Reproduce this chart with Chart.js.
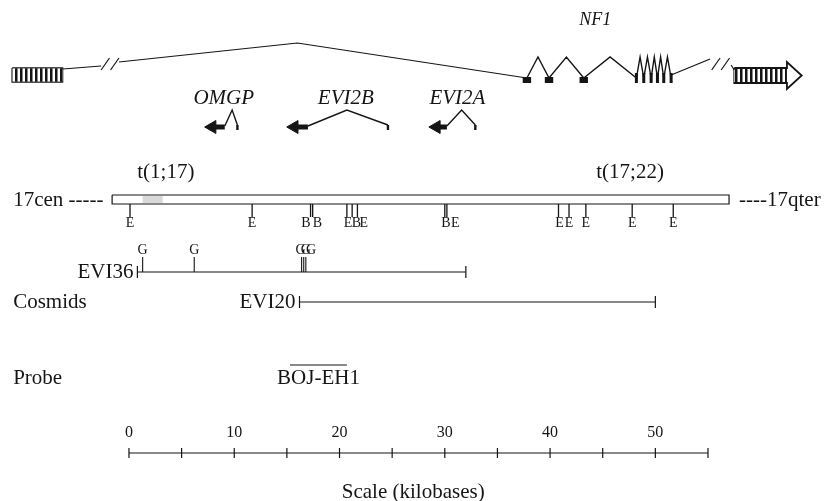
<!DOCTYPE html>
<html>
<head>
<meta charset="utf-8">
<script src="https://cdn.jsdelivr.net/npm/chart.js@4/dist/chart.umd.min.js"></script>
<style>
  html, body { margin: 0; padding: 0; background: #fff; }
  #map { display: block; }
</style>
</head>
<body>
<canvas id="map" width="828" height="501"></canvas>
<script>
// Map data, all x positions in kilobases (0 - 55 kb)
const scaleTickKb = [0, 5, 10, 15, 20, 25, 30, 35, 40, 45, 50, 55];
const scaleLabelKb = [0, 10, 20, 30, 40, 50];

// restriction sites below the chromosome bar (E = EcoRI, B = BamHI)
const siteKb      = [0.1, 11.7, 17.25, 17.45, 20.7, 21.2, 21.7, 30.0, 30.2, 40.8, 41.8, 43.4, 47.8, 51.7];
const siteEnzyme  = ['E', 'E', 'B', 'B', 'E', 'B', 'E', 'B', 'E', 'E', 'E', 'E', 'E', 'E'];
const siteLabelKb = [0.1, 11.7, 16.8, 17.9, 20.8, 21.6, 22.3, 30.1, 31.0, 40.9, 41.8, 43.4, 47.8, 51.7];

// G sites on cosmid EVI36
const gSiteKb  = [1.3, 6.2, 16.4, 16.6, 16.8];
const gLabelKb = [1.3, 6.2, 16.3, 16.8, 17.3];

const cosmidNames   = ['EVI36', 'EVI20'];
const cosmidStartKb = [0.8, 16.2];
const cosmidEndKb   = [32.0, 50.0];

const probeName = 'BOJ-EH1';
const probeKb = [15.3, 20.7];

const chromBarKb = [-1.6, 57.0];
const t117ShadeKb = [1.3, 3.2];
const translocations = ['t(1;17)', 't(17;22)'];
const translocationKb = [3.5, 47.6];

// genes inside the NF1 intron, transcribed toward the centromere
const geneNames   = ['OMGP', 'EVI2B', 'EVI2A'];
const geneArrowKb = [7.9, 15.7, 29.2];
const geneStartKb = [9.1, 17.0, 30.2];
const genePeakKb  = [9.8, 20.7, 31.6];
const geneEndKb   = [10.3, 24.6, 32.9];
const geneLabelKb = [9.0, 20.6, 31.2];

// NF1 on top, line broken at both ends
const nf1ExonKb = [37.8, 39.9, 43.2, 48.2, 48.9, 49.6, 50.2, 50.8, 51.5];
const nf1LongIntronPeakKb = 16.0;
const nf1LeftBoxKb = [-11.1, -6.3];
const nf1RightBoxKb = [57.5, 62.5, 63.9];
const nf1BreakKb = [-1.8, 56.2];
const nf1LabelKb = 44.3;

// vertical layout (y scale runs 0..501 top to bottom)
const Y = {
  nf1Label: 20, nf1Base: 78, nf1Peak: 57, nf1LongPeak: 43, nf1Box: 75,
  geneLabel: 98, geneArrow: 127, genePeak: 110, geneEnd: 125,
  transLabel: 172, barTop: 195, barBottom: 204, siteTick: 217, siteLabel: 223,
  gLabel: 250, gTick: 257, evi36: 272, evi20: 302,
  probeLine: 365, probeLabel: 378,
  scaleLabel: 433, scale: 453, scaleTitle: 492
};
const leftTextKb = -11.0;

const ink = '#151515';
const serif = "'Liberation Serif', 'Times New Roman', serif";

const datasets = [];
function path(points, width, extra) {
    datasets.push(Object.assign({
        data: points.map(p => ({ x: p[0], y: p[1] })),
        showLine: true,
        borderColor: ink,
        borderWidth: width || 1.2,
        pointRadius: 0,
        fill: false,
        tension: 0
    }, extra || {}));
}

const labels = [];
function text(str, kb, y, font, align, dx) {
    labels.push({ str: str, kb: kb, y: y, font: font, align: align || 'center', dx: dx || 0 });
}

// striped fill for the NF1 end boxes
const tile = document.createElement('canvas');
tile.width = 5; tile.height = 4;
const tctx = tile.getContext('2d');
tctx.fillStyle = '#fff'; tctx.fillRect(0, 0, 5, 4);
tctx.fillStyle = ink; tctx.fillRect(0, 0, 2.5, 4);
const stripes = document.getElementById('map').getContext('2d').createPattern(tile, 'repeat');

// ---- NF1 line ----
path([[nf1LeftBoxKb[1], Y.nf1Base - 9], [nf1BreakKb[0] - 0.85, Y.nf1Base - 12]]);
path([[nf1BreakKb[0] + 0.85, Y.nf1Base - 16], [nf1LongIntronPeakKb, Y.nf1LongPeak], [nf1ExonKb[0], Y.nf1Base]]);
const zig = [];
nf1ExonKb.forEach((kb, i) => {
    zig.push([kb, Y.nf1Base]);
    if (i < nf1ExonKb.length - 1) zig.push([(kb + nf1ExonKb[i + 1]) / 2, Y.nf1Peak]);
});
path(zig, 1.4);
path([[nf1ExonKb[nf1ExonKb.length - 1], Y.nf1Base - 3], [nf1BreakKb[1] - 1.0, Y.nf1Peak + 2]]);
path([[nf1BreakKb[1] + 1.0, Y.nf1Box - 10], [nf1RightBoxKb[0], Y.nf1Box - 5]]);
nf1BreakKb.forEach(kb => {
    const yc = Y.nf1Base - 14;
    [-0.45, 0.45].forEach(off => {
        path([[kb + off - 0.4, yc + 6], [kb + off + 0.4, yc - 6]], 1.2);
    });
});
nf1ExonKb.forEach((kb, i) => {
    if (i < 3) path([[kb - 0.4, Y.nf1Base + 2], [kb + 0.4, Y.nf1Base + 2]], 6, { borderCapStyle: 'butt' });
    else path([[kb, Y.nf1Base - 5], [kb, Y.nf1Base + 5]], 3, { borderCapStyle: 'butt' });
});
// end boxes
path([[nf1LeftBoxKb[0], Y.nf1Box], [nf1LeftBoxKb[1], Y.nf1Box]], 13, { borderColor: stripes, borderCapStyle: 'butt' });
path([[nf1LeftBoxKb[0], Y.nf1Box - 7], [nf1LeftBoxKb[1], Y.nf1Box - 7], [nf1LeftBoxKb[1], Y.nf1Box + 7],
      [nf1LeftBoxKb[0], Y.nf1Box + 7], [nf1LeftBoxKb[0], Y.nf1Box - 7]], 1.3);
path([[nf1RightBoxKb[0], Y.nf1Box + 0.5], [nf1RightBoxKb[1], Y.nf1Box + 0.5]], 13, { borderColor: stripes, borderCapStyle: 'butt' });
path([[nf1RightBoxKb[0], Y.nf1Box - 7], [nf1RightBoxKb[1], Y.nf1Box - 7], [nf1RightBoxKb[1], Y.nf1Box - 13],
      [nf1RightBoxKb[2], Y.nf1Box + 0.5], [nf1RightBoxKb[1], Y.nf1Box + 14], [nf1RightBoxKb[1], Y.nf1Box + 8],
      [nf1RightBoxKb[0], Y.nf1Box + 8], [nf1RightBoxKb[0], Y.nf1Box - 7]], 1.8);
text('NF1', nf1LabelKb, Y.nf1Label, 'italic 18px ' + serif);

// ---- OMGP, EVI2B, EVI2A ----
geneNames.forEach((name, i) => {
    path([[geneArrowKb[i], Y.geneArrow], [geneStartKb[i], Y.geneArrow]], 5, { borderCapStyle: 'butt' });
    path([[geneStartKb[i], Y.geneArrow - 1], [genePeakKb[i], Y.genePeak], [geneEndKb[i], Y.geneEnd]], 1.4);
    path([[geneEndKb[i], Y.geneEnd], [geneEndKb[i], Y.geneEnd + 5]], 2.4);
    text(name, geneLabelKb[i], Y.geneLabel, 'italic 21px ' + serif);
});
datasets.push({
    data: geneArrowKb.map(kb => ({ x: kb, y: Y.geneArrow })),
    showLine: false,
    pointStyle: 'triangle',
    rotation: 270,
    pointRadius: 7.5,
    backgroundColor: ink,
    borderColor: ink,
    borderWidth: 1
});

// ---- chromosome 17 bar ----
path([[t117ShadeKb[0], (Y.barTop + Y.barBottom) / 2], [t117ShadeKb[1], (Y.barTop + Y.barBottom) / 2]], 7,
     { borderColor: '#d9d9d9', borderCapStyle: 'butt' });
path([[chromBarKb[0], Y.barTop], [chromBarKb[1], Y.barTop], [chromBarKb[1], Y.barBottom],
      [chromBarKb[0], Y.barBottom], [chromBarKb[0], Y.barTop]], 1.2);
translocations.forEach((t, i) => text(t, translocationKb[i], Y.transLabel, '21px ' + serif));
text('17cen -----', leftTextKb, (Y.barTop + Y.barBottom) / 2 + 1, '21px ' + serif, 'left');
text('----17qter', chromBarKb[1], (Y.barTop + Y.barBottom) / 2 + 1, '21px ' + serif, 'left', 10);

siteKb.forEach((kb, i) => {
    path([[kb, Y.barBottom], [kb, Y.siteTick]], 1.3);
    text(siteEnzyme[i], siteLabelKb[i], Y.siteLabel, '14px ' + serif);
});

// ---- cosmids ----
[Y.evi36, Y.evi20].forEach((y, i) => {
    path([[cosmidStartKb[i], y], [cosmidEndKb[i], y]], 1.2);
    path([[cosmidStartKb[i], y - 6], [cosmidStartKb[i], y + 6]], 1.2);
    path([[cosmidEndKb[i], y - 6], [cosmidEndKb[i], y + 6]], 1.2);
    text(cosmidNames[i], cosmidStartKb[i], y, '21px ' + serif, 'right', -4);
});
gSiteKb.forEach((kb, i) => {
    path([[kb, Y.gTick], [kb, Y.evi36]], 1.1);
    text('G', gLabelKb[i], Y.gLabel, '14px ' + serif);
});
text('Cosmids', leftTextKb, Y.evi20, '21px ' + serif, 'left');

// ---- probe ----
path([[probeKb[0], Y.probeLine], [probeKb[1], Y.probeLine]], 1.2);
text(probeName, (probeKb[0] + probeKb[1]) / 2, Y.probeLabel, '21px ' + serif);
text('Probe', leftTextKb, Y.probeLabel, '21px ' + serif, 'left');

// ---- scale bar ----
path([[scaleTickKb[0], Y.scale], [scaleTickKb[scaleTickKb.length - 1], Y.scale]], 1.2);
scaleTickKb.forEach(kb => path([[kb, Y.scale - 5], [kb, Y.scale + 5]], 1.2));
scaleLabelKb.forEach(kb => text(String(kb), kb, Y.scaleLabel, '16px ' + serif));
text('Scale (kilobases)', 27.0, Y.scaleTitle, '21px ' + serif);

const labelPlugin = {
    id: 'mapLabels',
    afterDatasetsDraw(chart) {
        const ctx = chart.ctx, xs = chart.scales.x, ys = chart.scales.y;
        ctx.save();
        ctx.fillStyle = ink;
        ctx.textBaseline = 'middle';
        labels.forEach(l => {
            ctx.font = l.font;
            ctx.textAlign = l.align;
            ctx.fillText(l.str, xs.getPixelForValue(l.kb) + l.dx, ys.getPixelForValue(l.y));
        });
        ctx.restore();
    }
};

new Chart(document.getElementById('map'), {
    type: 'scatter',
    data: { datasets: datasets },
    options: {
        responsive: false,
        animation: false,
        events: [],
        layout: { padding: 0, autoPadding: false },
        plugins: { legend: { display: false }, tooltip: { enabled: false }, title: { display: false } },
        scales: {
            x: { type: 'linear', display: false, min: -12.25, max: 66.4 },
            y: { type: 'linear', display: false, min: 0, max: 501, reverse: true }
        }
    },
    plugins: [labelPlugin]
});
</script>
</body>
</html>
